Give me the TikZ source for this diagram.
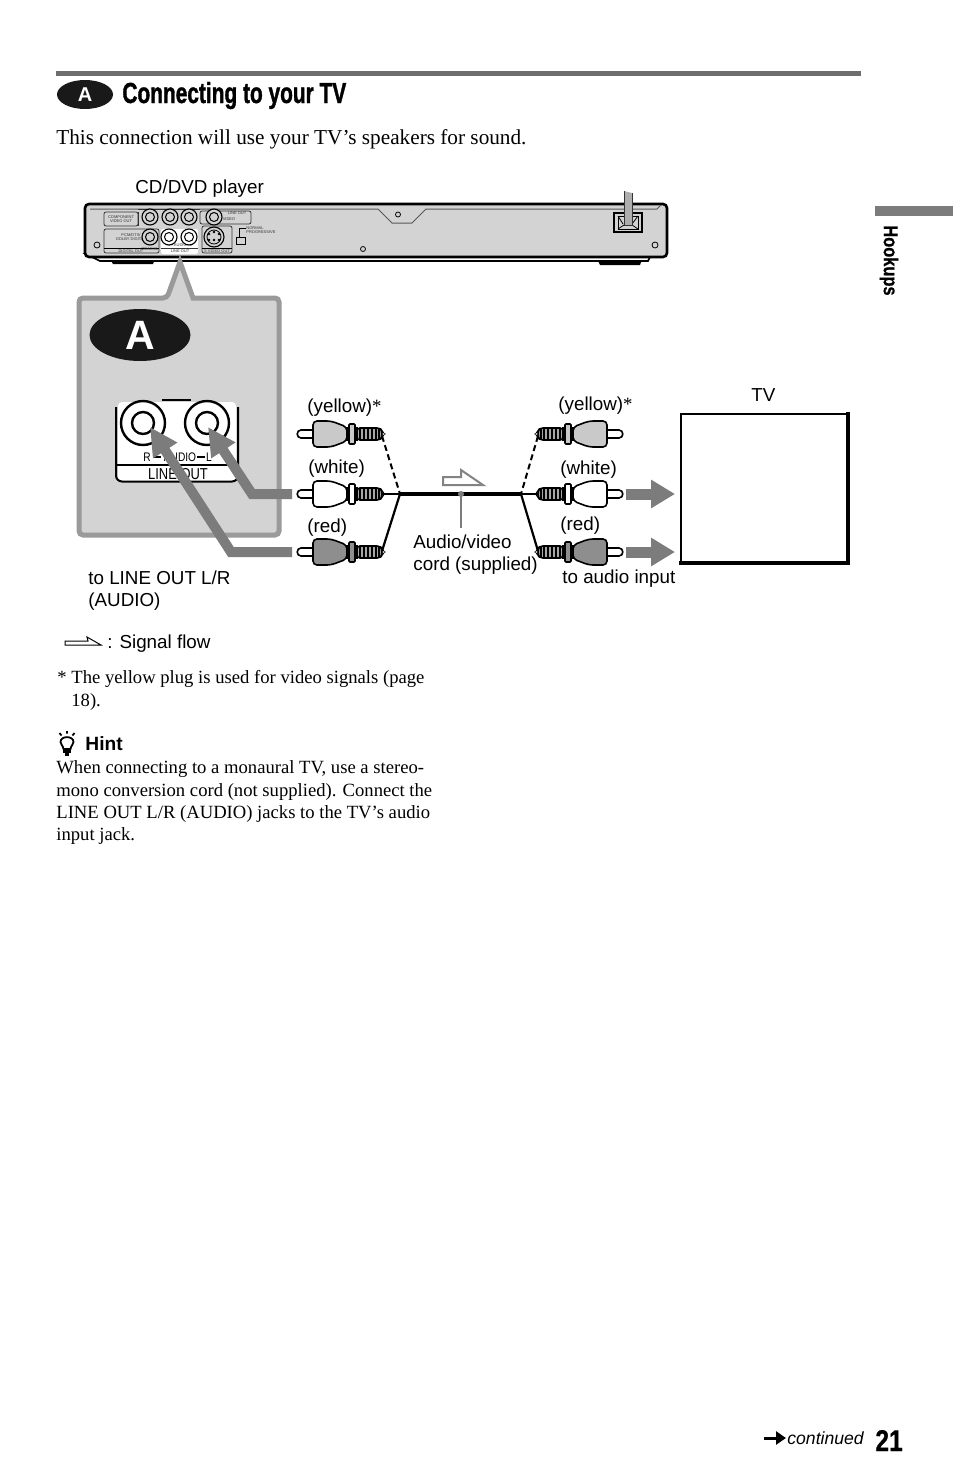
\documentclass[tikz,border=0pt]{standalone}
\usepackage{fontspec}
\setmainfont{Liberation Serif}
\setsansfont{Liberation Sans}
\newfontfamily\condf[FakeStretch=0.72,BoldFeatures={FakeBold=1.2}]{Liberation Sans}
\newfontfamily\condg[FakeStretch=0.82,BoldFeatures={FakeBold=0.6}]{Liberation Sans}
\usetikzlibrary{arrows.meta,shapes.geometric}
\definecolor{panelgray}{HTML}{D3D3D3}
\definecolor{rimgray}{HTML}{9A9A9A}
\definecolor{flowgray}{HTML}{7C7C7C}
\definecolor{bargray}{HTML}{6E6E6E}
\definecolor{plugyel}{HTML}{C9C9C9}
\definecolor{plugred}{HTML}{8E8E8E}
\newcommand{\sz}[1]{\fontsize{#1}{#1}\selectfont}
\tikzset{
  x=0.5pt,y=-0.5pt,
  lab/.style={anchor=base west,inner sep=0,font=\sffamily\sz{9.4}},
  body/.style={anchor=base west,inner sep=0,font=\rmfamily\sz{9.32}},
  tiny/.style={inner sep=0,font=\sffamily\sz{2},text=black!80,align=center},
  jack/.style={draw=black,line width=0.55pt,fill=panelgray},
  flow/.style={draw=flowgray,line width=5pt,-{Triangle[length=14pt,width=13.5pt]},miter limit=10},
  flowr/.style={draw=flowgray,line width=5.5pt,-{Triangle[length=12pt,width=13.5pt]}},
  box/.style={draw=black!80,line width=0.4pt,rounded corners=1pt},
  pics/rca/.style={code={
    \draw[line width=0.8pt,fill=white] (16,-4) -- (4,-4) .. controls (-1,-4) and (-1,4) .. (4,4) -- (16,4) -- cycle;
    \draw[line width=0.8pt,fill=#1,rounded corners=2pt] (16,-13) -- (34,-13) -- (50,-7) -- (50,7) -- (34,13) -- (16,13) -- cycle;
    \draw[line width=0.8pt,fill=#1] (50,-6) rectangle (60,6);
    \draw[line width=0.8pt,fill=#1,rounded corners=0.5pt] (52,-10) rectangle (58,10);
    \draw[line width=0.8pt,fill=black!35,rounded corners=1.5pt] (60,-6) -- (83,-6) -- (85,-3) -- (85,3) -- (83,6) -- (60,6) -- cycle;
    \foreach \rx in {63,67,71,75,79,82}{\draw[line width=0.7pt] (\rx,-6) -- (\rx,6);}
  }}
}
\begin{document}
\begin{tikzpicture}
\useasboundingbox (0,0) rectangle (954,1483);
\fill[white] (0,0) rectangle (954,1483);

% top bar and title
\fill[bargray] (56,71) rectangle (861,76);
\node[ellipse,fill=black!90,minimum width=28pt,minimum height=14.5pt,inner sep=0] (titleoval) at (85,94.5) {};
\node[inner sep=0,text=white,font=\sffamily\bfseries\sz{10}] (titleA) at (85,94.5) {A};
\node[anchor=base west,inner sep=0,font=\condf\bfseries\sz{14.5}] (title) at (122,103) {Connecting to your TV};
\node[anchor=base west,inner sep=0,font=\rmfamily\sz{10.62}] (intro) at (56,144) {This connection will use your TV’s speakers for sound.};
\node[lab] (cddvd) at (135,193.5) {CD/DVD player};

% side tab
\fill[bargray!90] (875,206) rectangle (953,216);
\node[inner sep=0,rotate=-90,font=\condg\bfseries\sz{10}] (hookups) at (889,260.5) {Hookups};

% player
\fill[black] (110,259) -- (155,259) -- (153,264) -- (113,264) -- cycle;
\fill[black] (597,259) -- (642,259) -- (640,265) -- (600,265) -- cycle;
\draw[line width=0.8pt,fill=white] (86,254) -- (100,261) -- (648,261) -- (651,255) -- cycle;
\draw[line width=1.3pt,fill=panelgray,rounded corners=2pt] (85,204) -- (667,204) -- (667,257) -- (85,257) -- cycle;
\draw[line width=0.5pt,black!65] (90,209) -- (378,209) -- (392,223) -- (412,223) -- (426,209) -- (657,209) -- (661,205);
\draw[line width=0.4pt] (398,214.5) circle[radius=2.5];
\draw[line width=0.4pt] (97,245) circle[radius=3];
\draw[line width=0.4pt] (363,249) circle[radius=2.5];
\draw[line width=0.4pt] (655,245) circle[radius=3];
% power socket
\draw[line width=0.6pt,fill=panelgray] (614,213) rectangle (642,232);
\draw[line width=0.4pt] (618,216) -- (638,216) -- (638,229) -- (618,229) -- cycle;
\draw[line width=0.4pt] (618,216) -- (623,224) (638,216) -- (632,224) (618,229) -- (624,225) (638,229) -- (632,225);
\fill[rimgray!80] (624,191) -- (632,193) -- (632,225) -- (624,225) -- cycle;
\draw[line width=0.4pt,black!80] (624,191) -- (624,225) -- (632,225) -- (632,193);
% panel boxes
\draw[box] (104,212) rectangle (138,226);
\draw[box] (138,212) -- (138,226) (138,209.5) -- (200,209.5);
\draw[box] (104,229) rectangle (159,253);
\draw[line width=0.4pt] (104,248.5) -- (159,248.5);
\fill[white,rounded corners=1pt] (161,229) rectangle (198,254);
\draw[line width=0.4pt,black!80] (161,248.5) -- (198,248.5);
\draw[box] (202,226) rectangle (232,253);
\draw[line width=0.4pt] (202,248.5) -- (232,248.5);
\draw[box] (200,211) -- (251,211) -- (251,224) -- (200,224) -- cycle;
\node[tiny] (ncomp) at (121,219) {COMPONENT\\[-0.2pt]VIDEO OUT};
\node[tiny] (npcm) at (131,237) {PCM/DTS/\\[0.4pt]DOLBY DIGITAL};
\node[tiny] (ncoax) at (150,249.5) {COAXIAL};
\node[tiny] (ndig) at (131,251) {DIGITAL OUT};
\node[tiny] (nlo) at (180,251.5) {LINE OUT};
\node[tiny] (nrl) at (180,245.5) {R\,--\,AUDIO\,--\,L};
\node[tiny] (nsv) at (217,251) {S VIDEO OUT};
\node[tiny] (nlo2) at (237,213.5) {LINE OUT};
\node[tiny] (nvid) at (229,219) {VIDEO};
\node[tiny,anchor=west,align=left] (nprog) at (246,230) {NORMAL\\[0.2pt]PROGRESSIVE};
\draw[line width=0.4pt] (246,228) -- (239,228) -- (239,237);
\draw[line width=0.4pt,fill=panelgray] (236,237) rectangle (245,244);
\foreach \cx/\cy in {150/217,170/217,189/217,214/217,150/237}{
  \draw[jack] (\cx,\cy) circle[radius=8];
  \draw[line width=0.5pt] (\cx,\cy) circle[radius=4.5];
}
\foreach \cx/\cy in {169/237,189/237}{
  \draw[line width=0.55pt,fill=white] (\cx,\cy) circle[radius=8];
  \draw[line width=0.5pt] (\cx,\cy) circle[radius=4.5];
}
\draw[jack] (214,237) circle[radius=10];
\draw[line width=0.4pt] (214,237) circle[radius=7];
\foreach \ax/\ay in {209/234,214/232,219/234,209/240,219/240,214/240}{\fill (\ax,\ay) circle[radius=1.3];}

% callout panel
\path[fill=panelgray,draw=rimgray,line width=2.5pt,line join=miter,miter limit=10]
  (167,298) -- (180,262) -- (193,298) [rounded corners=2pt] -- (279,298) -- (279,535) -- (79,535) -- (79,298) -- cycle;
\node[ellipse,fill=black!90,minimum width=50.5pt,minimum height=26pt,inner sep=0] (bigoval) at (140,335) {};
\node[inner sep=0,text=white,font=\sffamily\bfseries\sz{20.5}] (bigA) at (140,335) {A};

% large jack panel
\fill[white,rounded corners=2pt] (118,402) rectangle (236,482);
\draw[line width=1pt,rounded corners=3pt] (116,407) -- (116,481.5) -- (238,481.5) -- (238,407);
\draw[line width=1pt] (116,465) -- (238,465);
\draw[line width=1pt] (162,400) -- (191,400);
\foreach \jn/\jx in {jr/143,jl/207}{
  \draw[line width=1.2pt] (\jx,423) circle[radius=22];
  \draw[line width=1.2pt] (\jx,423) circle[radius=11];
}
\coordinate (tipR) at (150,427);
\coordinate (tipL) at (208,427);
\node[anchor=base,inner sep=0,font=\condg\sz{6.2}] (audioR) at (147,461) {R};
\node[anchor=base,inner sep=0,font=\condg\sz{6.2}] (audio) at (180,461) {AUDIO};
\node[anchor=base,inner sep=0,font=\condg\sz{6.2}] (audioL) at (209,461) {L};
\draw[line width=0.8pt] (153,457) -- (161,457) (197,457) -- (205,457);
\node[anchor=base,inner sep=0,font=\condg\sz{7.9}] (lineout) at (178,479) {LINE OUT};

% plugs left
\pic at (297,434) {rca=plugyel};
\pic at (297,494) {rca=white};
\pic at (297,552) {rca=plugred};
% plugs right
\pic[xscale=-1] at (623,434) {rca=plugyel};
\pic[xscale=-1] at (623,494) {rca=white};
\pic[xscale=-1] at (623,552) {rca=plugred};

\coordinate (lY) at (382,436);
\coordinate (lW) at (382,494);
\coordinate (lR) at (382,551);
\coordinate (rY) at (538,436);
\coordinate (rW) at (538,494);
\coordinate (rR) at (538,551);
\coordinate (jL) at (400,494);
\coordinate (jR) at (521,494);
\coordinate (cordpt) at (461,494);
\coordinate (cordlab) at (461,528);
\draw[line width=1pt,dash pattern=on 3pt off 1.8pt] (lY) -- (jL);
\draw[line width=1pt,dash pattern=on 3pt off 1.8pt] (rY) -- (jR);
\draw[line width=0.6pt] (lW) -- (jL);
\draw[line width=0.6pt] (rW) -- (jR);
\draw[line width=1.1pt] (lR) -- (jL);
\draw[line width=1.1pt] (rR) -- (jR);
\draw[line width=1.7pt] (jL) -- (jR);
\draw[flowgray,line width=0.6pt] (cordpt) -- (cordlab);
\fill[flowgray] (cordpt) circle[radius=3];
\draw[rimgray!85!black,line width=1pt,fill=white,line join=miter] (443,477) -- (461,477) -- (461,470) -- (483,485) -- (443,485) -- cycle;

% gray flow arrows
\coordinate (fL0) at (292,494);
\coordinate (fLe) at (252,494);
\coordinate (fR0) at (292,552);
\coordinate (fRe) at (231,552);
\draw[flow] (fL0) -- (fLe) -- (tipL);
\draw[flow] (fR0) -- (fRe) -- (tipR);
\coordinate (oW) at (626,494);
\coordinate (oR) at (626,552);
\coordinate (tvW) at (675,494);
\coordinate (tvR) at (675,552);
\draw[flowr] (oW) -- (tvW);
\draw[flowr] (oR) -- (tvR);

% TV
\node[draw=black,line width=0.8pt,fill=white,minimum width=83.5pt,minimum height=74.5pt,inner sep=0,outer sep=0] (tv) at (764.5,488.5) {};
\draw[line width=1.6pt,line cap=rect] (tv.north east) -- (tv.south east) -- (tv.south west);

% labels
\node[lab] (ly1) at (307,412) {(yellow)\raisebox{0pt}{\rmfamily *}};
\node[lab] (lw1) at (308,473) {(white)};
\node[lab] (lr1) at (307,532) {(red)};
\node[lab] (ly2) at (558,410) {(yellow)\raisebox{0pt}{\rmfamily *}};
\node[lab] (lw2) at (560,474) {(white)};
\node[lab] (lr2) at (560,530) {(red)};
\node[lab] (ltv) at (751,401) {TV};
\node[lab] (lav1) at (413,548) {Audio/video};
\node[lab] (lav2) at (413,570) {cord (supplied)};
\node[lab] (lai) at (562,583) {to audio input};
\node[lab] (llo1) at (88,584) {to LINE OUT L/R};
\node[lab] (llo2) at (88,606) {(AUDIO)};
\draw[line width=0.5pt,fill=white,line join=miter] (65,641) -- (88,641) -- (87,637) -- (101,645) -- (65,645) -- cycle;
\node[lab] (lsf) at (107,648.5) {: Signal flow};

% notes
\node[body] (fn1) at (57,683) {* The yellow plug is used for video signals (page};
\node[body] (fn2) at (71,706) {18).};
% bulb
\draw[line width=0.9pt] (63.5,749) .. controls (63,745) and (60.5,745) .. (60.5,742) .. controls (60.5,735.5) and (73.5,735.5) .. (73.5,742) .. controls (73.5,745) and (71,745) .. (70.5,749) -- cycle;
\fill (63,749) rectangle (71,753);
\fill (65,753) rectangle (69,756);
\draw[line width=0.9pt] (67,731) -- (67,733.5) (59.5,733) -- (61.5,735.5) (74.5,733) -- (72.5,735.5);
\node[anchor=base west,inner sep=0,font=\sffamily\bfseries\sz{9.6}] (hint) at (85,750) {Hint};
\node[body] (h1) at (56,773.5) {When connecting to a monaural TV, use a stereo-};
\node[body] (h2) at (56,796) {mono conversion cord (not supplied). Connect the};
\node[body] (h3) at (56,818) {LINE OUT L/R (AUDIO) jacks to the TV’s audio};
\node[body] (h4) at (56,840.5) {input jack.};

% footer
\coordinate (ca0) at (764,1438);
\coordinate (ca1) at (786,1438);
\draw[line width=1.5pt,-{Triangle[length=5pt,width=6.5pt]}] (ca0) -- (ca1);
\node[anchor=base west,inner sep=0,font=\sffamily\itshape\sz{8.8}] (cont) at (787,1444) {continued};
\node[anchor=base west,inner sep=0,font=\condg\bfseries\sz{15}] (pg) at (875,1451) {21};
\end{tikzpicture}
\end{document}
